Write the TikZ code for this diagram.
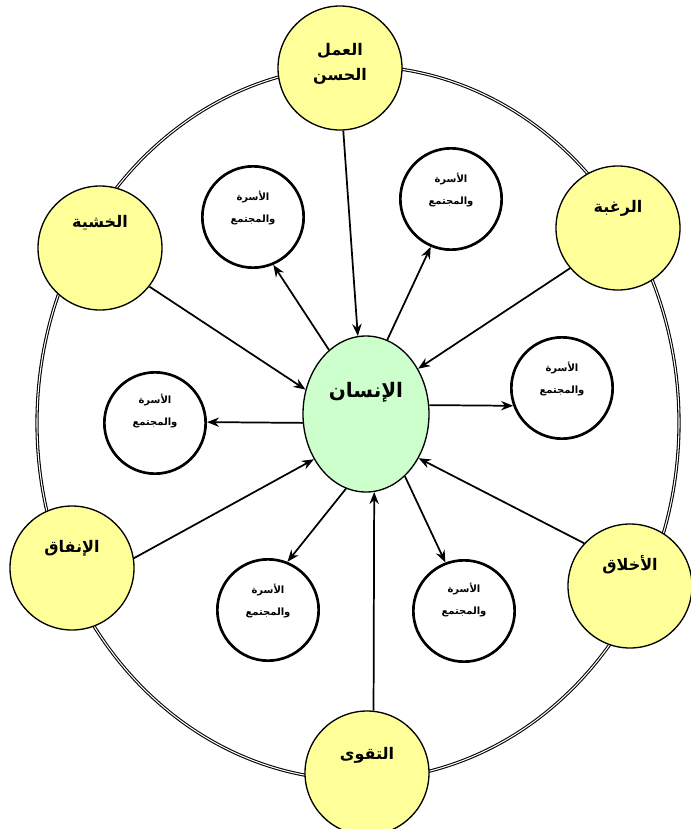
\documentclass[tikz,border=0pt]{standalone}
\usepackage{fontspec}
\newfontfamily\arabicfont[Script=Arabic]{DejaVu Sans}
\TeXXeTstate=1
\usetikzlibrary{shapes.geometric,arrows.meta}
\newcommand\artxt[1]{\beginR #1\endR}
\definecolor{yel}{RGB}{255,255,153}
\definecolor{grn}{RGB}{204,255,204}
\begin{document}
\begin{tikzpicture}[x=0.75pt,y=-0.75pt,
  ybox/.style={circle,draw=black,line width=1pt,fill=yel,minimum size=93pt,inner sep=0pt},
  wbox/.style={circle,draw=black,line width=2pt,fill=white,minimum size=76pt,inner sep=0pt},
  cbox/.style={ellipse,draw=black,line width=1pt,fill=grn,minimum width=94.5pt,minimum height=117pt,inner sep=0pt},
  obox/.style={ellipse,draw=black,line width=0.8pt,double=white,double distance=0.8pt,minimum width=481.5pt,minimum height=535.5pt,inner sep=0pt},
  ytxt/.style={font=\arabicfont\bfseries\fontsize{12}{19}\selectfont,align=center,inner sep=0pt},
  ctxt/.style={font=\arabicfont\bfseries\fontsize{15}{18}\selectfont,align=center,inner sep=0pt},
  wtxt/.style={font=\arabicfont\bfseries\fontsize{7.5}{16}\selectfont,align=center,inner sep=0pt},
  arr/.style={line width=1.3pt,-{Stealth[length=9pt,width=7pt]}},
]
\fill[white] (0,0) rectangle (690,829);
\useasboundingbox (0,0) rectangle (690,829);

% outer double ellipse
\node[obox] (outer) at (358,423) {};

% centre
\node[cbox] (c) at (366,414) {};
\node[ctxt] (ct) at (366,392) {\artxt{الإنسان}};

% yellow circles
\node[ybox] (A) at (340,68) {};
\node[ybox] (B) at (618,228) {};
\node[ybox] (C) at (100,248) {};
\node[ybox] (D) at (72,568) {};
\node[ybox] (E) at (630,586) {};
\node[ybox] (F) at (367,773) {};
\node[ytxt] (At) at (340,64) {\artxt{العمل}\\\artxt{الحسن}};
\node[ytxt] (Bt) at (618,208) {\artxt{الرغبة}};
\node[ytxt] (Ct) at (100,223) {\artxt{الخشية}};
\node[ytxt] (Dt) at (72,548) {\artxt{الإنفاق}};
\node[ytxt] (Et) at (630,565) {\artxt{الأخلاق}};
\node[ytxt] (Ft) at (367,755) {\artxt{التقوى}};

% white circles
\node[wbox] (W1) at (253,217) {};
\node[wbox] (W2) at (451,199) {};
\node[wbox] (W3) at (562,388) {};
\node[wbox] (W4) at (155,423) {};
\node[wbox] (W5) at (268,610) {};
\node[wbox] (W6) at (464,611) {};
\node[wtxt] (W1t) at (253,208) {\artxt{الأسرة}\\\artxt{والمجتمع}};
\node[wtxt] (W2t) at (451,190) {\artxt{الأسرة}\\\artxt{والمجتمع}};
\node[wtxt] (W3t) at (562,379) {\artxt{الأسرة}\\\artxt{والمجتمع}};
\node[wtxt] (W4t) at (155,411) {\artxt{الأسرة}\\\artxt{والمجتمع}};
\node[wtxt] (W5t) at (268,601) {\artxt{الأسرة}\\\artxt{والمجتمع}};
\node[wtxt] (W6t) at (464,600) {\artxt{الأسرة}\\\artxt{والمجتمع}};

% arrows into the centre
\draw[arr] (A.-87) -- (c.96);
\draw[arr] (B.-140) -- (c.41);
\draw[arr] (C.-38) -- (c.158);
\draw[arr] (D.9) -- (c.-139);
\draw[arr] (E.137) -- (c.-40);
\draw[arr] (F.84.3) -- (c.-84.9);

% arrows out of the centre
\draw[arr] (c.120) -- (W1.-67.5);
\draw[arr] (c.74) -- (W2.-113.5);
\draw[arr] (c.8.4) -- (W3.-160.9);
\draw[arr] (c.-172.8) -- (W4.1);
\draw[arr] (c.-105.4) -- (W5.68);
\draw[arr] (c.-58.6) -- (W6.111.6);
\end{tikzpicture}
\end{document}
